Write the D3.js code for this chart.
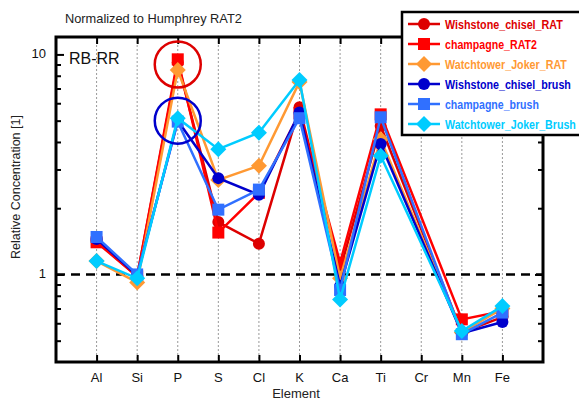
<!DOCTYPE html>
<html>
<head>
<meta charset="utf-8">
<script src="https://cdn.jsdelivr.net/npm/d3@7"></script>
<style>
  body { margin: 0; background: #fff; }
  svg { font-family: "Liberation Sans", Arial, sans-serif; }
</style>
</head>
<body>
<svg id="chart" width="579" height="404"></svg>
<script>
// elements along the x axis (Cr has no measurement)
const elements = ["Al", "Si", "P", "S", "Cl", "K", "Ca", "Ti", "Cr", "Mn", "Fe"];

const seriesNames = ["Wishstone_chisel_RAT", "champagne_RAT2", "Watchtower_Joker_RAT",
                     "Wishstone_chisel_brush", "champagne_brush", "Watchtower_Joker_Brush"];
const seriesColors = ["#dd0000", "#ff0000", "#ff9933", "#0000cc", "#3070ff", "#00ccff"];
const seriesShapes = ["circle", "square", "diamond", "circle", "square", "diamond"];

// values, normalized to Humphrey RAT2
const wishstoneRAT   = [1.42, 0.98, 9.2, 1.73, 1.38, 5.75, 1.05, 4.73, null, 0.545, 0.64];
const champagneRAT2  = [1.40, 0.98, 9.5, 1.55, 2.35, 5.40, 1.13, 5.34, null, 0.625, 0.68];
const watchtowerRAT  = [1.15, 0.92, 8.5, 2.69, 3.12, 7.50, 0.96, 4.12, null, 0.545, 0.70];
const wishstoneBrush = [1.45, 0.99, 5.0, 2.74, 2.30, 5.44, 0.885, 3.92, null, 0.54, 0.608];
const champagneBrush = [1.48, 1.00, 4.95, 1.97, 2.43, 5.13, 0.85, 5.18, null, 0.535, 0.671];
const watchtowerBrush= [1.15, 0.96, 5.13, 3.71, 4.41, 7.65, 0.77, 3.46, null, 0.553, 0.718];

const allSeries = [wishstoneRAT, champagneRAT2, watchtowerRAT, wishstoneBrush, champagneBrush, watchtowerBrush];

const yMajor = [1, 10];
const yMinor = [0.5, 0.6, 0.7, 0.8, 0.9, 2, 3, 4, 5, 6, 7, 8, 9];

const svg = d3.select("#chart");
const margin = {top: 37, right: 36, bottom: 42, left: 56};
const W = 579, H = 404;

const x = d3.scaleLinear().domain([0, elements.length + 1]).range([margin.left, W - margin.right]);
const y = d3.scaleLog().domain([0.4, 12]).range([H - margin.bottom, margin.top]);

// dotted grid at each element
svg.append("g").selectAll("line").data(elements).join("line")
  .attr("x1", (d, i) => x(i + 1)).attr("x2", (d, i) => x(i + 1))
  .attr("y1", margin.top).attr("y2", H - margin.bottom)
  .attr("stroke", "#999").attr("stroke-width", 1).attr("stroke-dasharray", "2,2");

// axes, ticks pointing inward
const xPos = elements.map((d, i) => i + 1);
svg.append("g").attr("transform", `translate(0,${H - margin.bottom})`)
  .call(d3.axisTop(x).tickValues(xPos).tickFormat("").tickSize(7).tickSizeOuter(0));
svg.append("g").attr("transform", `translate(0,${margin.top})`)
  .call(d3.axisBottom(x).tickValues(xPos).tickFormat("").tickSize(7).tickSizeOuter(0));
svg.append("g").attr("transform", `translate(${margin.left},0)`)
  .call(d3.axisRight(y).tickValues(yMinor).tickFormat("").tickSize(5).tickSizeOuter(0));
svg.append("g").attr("transform", `translate(${margin.left},0)`)
  .call(d3.axisRight(y).tickValues(yMajor).tickFormat("").tickSize(8).tickSizeOuter(0));
svg.append("g").attr("transform", `translate(${W - margin.right},0)`)
  .call(d3.axisLeft(y).tickValues(yMinor).tickFormat("").tickSize(5).tickSizeOuter(0));
svg.append("g").attr("transform", `translate(${W - margin.right},0)`)
  .call(d3.axisLeft(y).tickValues(yMajor).tickFormat("").tickSize(8).tickSizeOuter(0));
svg.selectAll(".tick line").attr("stroke", "#000").attr("stroke-width", 2);
svg.selectAll(".domain").remove();

// frame
svg.append("rect")
  .attr("x", margin.left).attr("y", margin.top)
  .attr("width", W - margin.left - margin.right).attr("height", H - margin.top - margin.bottom)
  .attr("fill", "none").attr("stroke", "#000").attr("stroke-width", 3);

// tick labels
svg.append("g").selectAll("text").data(elements).join("text")
  .attr("x", (d, i) => x(i + 1)).attr("y", H - margin.bottom + 20)
  .attr("text-anchor", "middle").attr("font-size", 13).attr("fill", "#111")
  .text(d => d);
svg.append("g").selectAll("text").data(yMajor).join("text")
  .attr("x", margin.left - 10).attr("y", d => y(d) + 4)
  .attr("text-anchor", "end").attr("font-size", 13).attr("fill", "#111")
  .text(d => d);

// reference line at 1
svg.append("line")
  .attr("x1", margin.left).attr("x2", W - margin.right)
  .attr("y1", y(1)).attr("y2", y(1))
  .attr("stroke", "#000").attr("stroke-width", 2.5).attr("stroke-dasharray", "9,6");

// series
const line = d3.line()
  .defined(d => d[1] != null)
  .x(d => x(d[0])).y(d => y(d[1]));

function marker(g, shape, color, cx, cy) {
  if (shape == "circle") {
    g.append("circle").attr("cx", cx).attr("cy", cy).attr("r", 6).attr("fill", color);
  } else if (shape == "square") {
    g.append("rect").attr("x", cx - 6).attr("y", cy - 6).attr("width", 12).attr("height", 12).attr("fill", color);
  } else {
    g.append("path").attr("d", `M${cx},${cy - 8}L${cx + 8},${cy}L${cx},${cy + 8}L${cx - 8},${cy}Z`).attr("fill", color);
  }
}

allSeries.forEach(function(vals, s) {
  let pts = vals.map((v, i) => [i + 1, v]).filter(d => d[1] != null);
  let g = svg.append("g");
  g.append("path").datum(pts)
    .attr("d", line)
    .attr("fill", "none").attr("stroke", seriesColors[s]).attr("stroke-width", 2.5);
  pts.forEach(function(p) {
    marker(g, seriesShapes[s], seriesColors[s], x(p[0]), y(p[1]));
  });
});

// highlight circles around P
svg.append("circle").attr("cx", x(3)).attr("cy", y(9.0)).attr("r", 23)
  .attr("fill", "none").attr("stroke", "#dd0000").attr("stroke-width", 2.5);
svg.append("circle").attr("cx", x(3)).attr("cy", y(5.0)).attr("r", 23)
  .attr("fill", "none").attr("stroke", "#0000cc").attr("stroke-width", 2.5);

// texts
svg.append("text").attr("x", 65).attr("y", 23).attr("font-size", 12.8).attr("fill", "#222")
  .text("Normalized to Humphrey RAT2");
svg.append("text").attr("x", 69).attr("y", 64).attr("font-size", 16).attr("fill", "#111")
  .text("RB-RR");
svg.append("text").attr("x", 296).attr("y", 398).attr("text-anchor", "middle")
  .attr("font-size", 13).attr("fill", "#222").text("Element");
svg.append("text").attr("transform", "translate(20,187) rotate(-90)")
  .attr("text-anchor", "middle").attr("font-size", 12.5).attr("fill", "#222")
  .text("Relative Concentration [1]");

// legend - text squeezed horizontally so it fits the box like the original
const legendWidths = [118, 92, 122, 126, 94, 131];
const legend = svg.append("g");
legend.append("rect").attr("x", 402).attr("y", 12).attr("width", 182).attr("height", 123)
  .attr("fill", "#fff").attr("stroke", "#000").attr("stroke-width", 2.5);
seriesNames.forEach(function(name, s) {
  let ly = 24 + s * 20;
  legend.append("line").attr("x1", 408).attr("x2", 440).attr("y1", ly).attr("y2", ly)
    .attr("stroke", seriesColors[s]).attr("stroke-width", 2.5);
  marker(legend, seriesShapes[s], seriesColors[s], 424, ly);
  let t = legend.append("text")
    .attr("font-size", 12).attr("font-weight", "bold").attr("fill", seriesColors[s])
    .text(name);
  let k = legendWidths[s] / t.node().getComputedTextLength();
  t.attr("transform", `translate(445,${ly + 4.5}) scale(${k},1)`);
});
</script>
</body>
</html>
